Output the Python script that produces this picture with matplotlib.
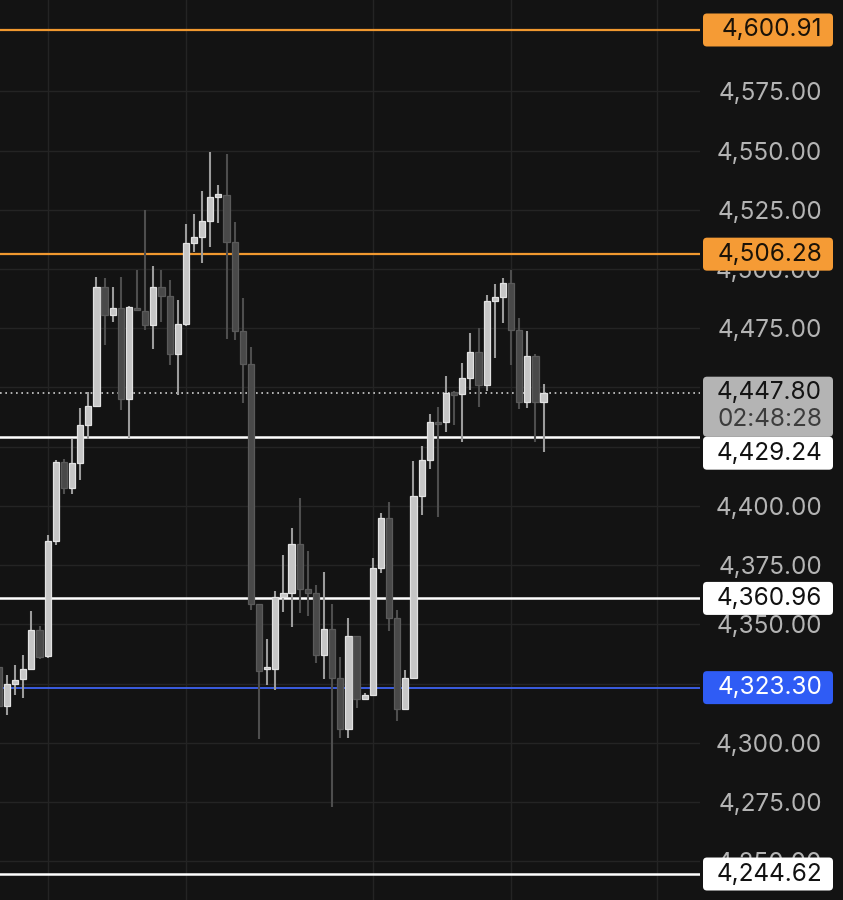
import numpy as np
import matplotlib.pyplot as plt
from matplotlib.patches import FancyBboxPatch
from matplotlib.transforms import blended_transform_factory
from matplotlib.ticker import FuncFormatter

plt.rcParams['font.family'] = ['Inter', 'DejaVu Sans']

# candle data (oldest -> newest)
opens = [4332.0, 4315.6, 4324.9, 4326.9, 4331.1, 4347.7, 4336.7, 4385.3, 4418.7, 4407.7,
         4418.2, 4434.3, 4442.3, 4492.3, 4480.7, 4483.4, 4445.3, 4483.7, 4482.4, 4476.4,
         4492.6, 4488.8, 4464.2, 4476.8, 4511.2, 4513.7, 4520.1, 4530.3, 4531.4, 4511.6,
         4474.0, 4459.9, 4358.8, 4331.0, 4331.0, 4361.6, 4363.4, 4384.1, 4365.0, 4363.4,
         4337.0, 4348.0, 4327.2, 4305.7, 4345.1, 4318.7, 4320.3, 4373.9, 4395.0, 4352.7,
         4314.1, 4327.2, 4404.2, 4419.4, 4435.3, 4435.3, 4448.0, 4447.1, 4454.2, 4465.1,
         4451.1, 4486.6, 4488.0, 4493.9, 4474.2, 4443.7, 4463.5, 4444.0]
highs = [4336.0, 4328.7, 4332.9, 4337.1, 4355.7, 4349.4, 4387.8, 4419.5, 4420.0, 4428.4,
         4441.5, 4448.2, 4496.8, 4496.1, 4492.6, 4496.8, 4484.5, 4499.4, 4525.0, 4501.1,
         4499.4, 4495.4, 4487.0, 4518.9, 4523.2, 4533.0, 4549.2, 4535.6, 4548.7, 4519.8,
         4487.7, 4467.3, 4358.8, 4344.0, 4364.0, 4379.2, 4390.8, 4403.5, 4381.0, 4366.8,
         4372.2, 4358.7, 4336.3, 4352.5, 4345.1, 4321.0, 4378.1, 4397.2, 4401.5, 4356.0,
         4330.7, 4419.0, 4425.4, 4438.8, 4441.8, 4455.0, 4448.5, 4460.2, 4473.2, 4475.0,
         4489.1, 4493.6, 4496.4, 4499.7, 4479.5, 4474.0, 4464.2, 4451.5]
lows = [4304.0, 4311.8, 4320.2, 4319.0, 4331.0, 4335.4, 4336.0, 4383.6, 4405.1, 4405.1,
        4411.0, 4428.4, 4442.0, 4468.1, 4477.5, 4440.5, 4428.5, 4482.5, 4474.3, 4466.3,
        4477.5, 4459.5, 4446.9, 4476.0, 4507.0, 4502.5, 4509.1, 4519.4, 4470.5, 4470.0,
        4443.3, 4356.0, 4301.6, 4324.6, 4322.5, 4355.3, 4349.0, 4355.0, 4353.6, 4333.5,
        4327.0, 4272.9, 4302.0, 4302.0, 4314.7, 4318.5, 4319.6, 4371.5, 4347.1, 4309.1,
        4314.0, 4327.0, 4396.2, 4415.6, 4395.4, 4431.3, 4434.2, 4426.8, 4449.0, 4441.9,
        4448.5, 4462.3, 4477.1, 4459.5, 4440.9, 4441.2, 4427.1, 4422.9]
closes = [4315.6, 4324.9, 4326.6, 4331.1, 4347.7, 4336.3, 4385.3, 4418.7, 4407.7, 4418.2,
          4434.3, 4442.3, 4492.3, 4480.8, 4483.4, 4445.3, 4483.9, 4482.6, 4476.4, 4492.6,
          4488.8, 4464.2, 4476.8, 4511.2, 4513.7, 4520.1, 4530.3, 4531.6, 4511.6, 4474.0,
          4459.8, 4358.8, 4330.4, 4331.4, 4361.6, 4363.4, 4384.1, 4365.0, 4363.4, 4337.0,
          4348.0, 4327.2, 4305.7, 4345.1, 4318.7, 4320.3, 4373.9, 4395.0, 4352.7, 4314.1,
          4327.2, 4404.0, 4419.4, 4435.3, 4434.5, 4447.8, 4447.0, 4454.2, 4465.1, 4451.1,
          4486.6, 4488.0, 4493.9, 4474.2, 4443.9, 4463.5, 4444.0, 4447.8]

# horizontal price levels and their labels
level_prices = [4600.91, 4506.28, 4429.24, 4360.96, 4323.30, 4244.62]
level_kinds = ['orange', 'orange', 'white', 'white', 'blue', 'white']
last_price = 4447.80
countdown = '02:48:28'
price_ticks = list(range(4250, 4600, 25))
hidden_ticks = [4325, 4425, 4450]  # fully covered by the label boxes
session_breaks = [6, 23, 46, 63, 81]

BG = '#131313'
styles = {
    'orange': dict(line='#f0982f', box='#f59b35', text='#1a1208', lw=1.6),
    'white': dict(line='#ffffff', box='#ffffff', text='#111111', lw=1.8),
    'blue': dict(line='#3b5de0', box='#2f5cf5', text='#ffffff', lw=1.4),
}

fig = plt.figure(figsize=(8.43, 9.0), dpi=100, facecolor=BG)
ax = fig.add_axes([0, 0, 700 / 843, 1])
ax.set_facecolor(BG)
ymin, ymax = 4233.65, 4613.57
ax.set_xlim(0.14, 86.24)
ax.set_ylim(ymin, ymax)
ppu = 900 / (ymax - ymin)  # pixels per price unit

for s in ax.spines.values():
    s.set_visible(False)


def fmt_price(v, pos):
    if round(v) in hidden_ticks:
        return ''
    return f'{v:,.2f}'


# grid
ax.set_xticks(session_breaks)
ax.set_xticklabels([])
ax.set_yticks(price_ticks)
ax.yaxis.set_major_formatter(FuncFormatter(fmt_price))
ax.yaxis.tick_right()
ax.tick_params(axis='both', length=0)
ax.tick_params(axis='y', pad=87.8, labelsize=17.5, labelcolor='#b4b4b4')
for lbl in ax.get_yticklabels():
    lbl.set_horizontalalignment('right')
ax.grid(True, color='#242424', linewidth=1.0)
ax.set_axisbelow(True)

# candles
x = np.arange(len(opens))
o = np.array(opens)
c = np.array(closes)
up = c >= o
body_bot = np.minimum(o, c)
body_h = np.maximum(np.abs(c - o), 1.1)
wick_col = np.where(up, '#9c9c9c', '#4e4e4e')
fill_col = np.where(up, '#c6c6c6', '#494949')
edge_col = np.where(up, '#e2e2e2', '#5a5a5a')

ax.vlines(x, lows, highs, colors=wick_col, linewidth=1.5, zorder=3)
ax.bar(x, body_h, bottom=body_bot, width=0.76, color=fill_col,
       edgecolor=edge_col, linewidth=0.9, zorder=4)

# level lines
for p, k in zip(level_prices, level_kinds):
    ax.axhline(p, color=styles[k]['line'], linewidth=styles[k]['lw'], zorder=2)
ax.axhline(last_price, color='#cfcfcf', linewidth=1.2, linestyle=(0, (1, 2.2)), zorder=2)

# labels on the price scale
blend = blended_transform_factory(ax.transAxes, ax.transData)
bx0, bw = 703 / 700, 130 / 700
r = 4 / 700
aspect = (4 / ppu) / r


def price_box(center, height_px, color):
    h = height_px / ppu
    patch = FancyBboxPatch((bx0, center - h / 2), bw, h,
                           boxstyle=f'round,pad=0,rounding_size={r}',
                           mutation_aspect=aspect, transform=blend,
                           facecolor=color, edgecolor='none',
                           clip_on=False, zorder=6)
    ax.add_patch(patch)


tx = 822 / 700
# current price box (two lines)
gray_top = last_price + 16 / ppu
gray_bot = last_price - 44 / ppu
price_box((gray_top + gray_bot) / 2, 60, '#b4b4b4')
ax.text(tx, last_price, f'{last_price:,.2f}', transform=blend, ha='right',
        va='center', fontsize=17.5, color='#141414', zorder=7, clip_on=False)
ax.text(tx, last_price - 27 / ppu, countdown, transform=blend, ha='right',
        va='center', fontsize=17.5, color='#3c3c3c', zorder=7, clip_on=False)

for p, k in zip(level_prices, level_kinds):
    cy = p
    if gray_bot - 17 / ppu < p < gray_top:
        cy = gray_bot - 16.5 / ppu  # pushed below the current price box
    price_box(cy, 33, styles[k]['box'])
    ax.text(tx, cy, f'{p:,.2f}', transform=blend, ha='right', va='center',
            fontsize=17.5, color=styles[k]['text'], zorder=7, clip_on=False)

plt.savefig('out.png', dpi=100, facecolor=BG)
